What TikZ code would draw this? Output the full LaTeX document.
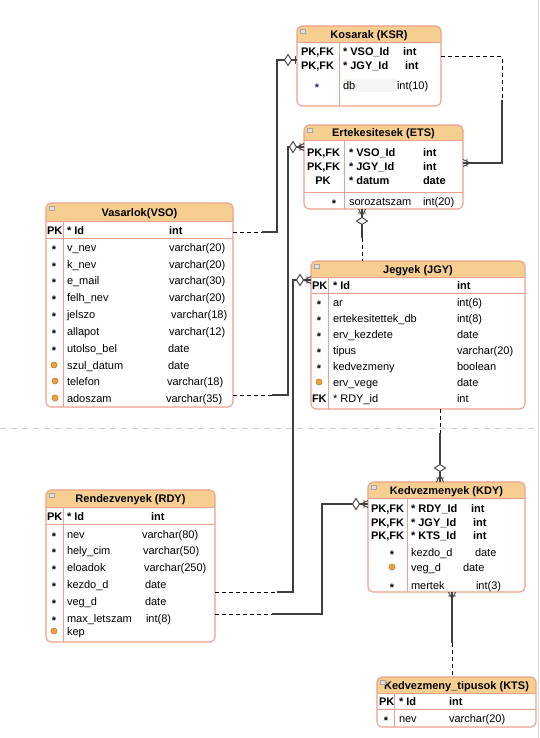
\documentclass[tikz,border=0pt]{standalone}
\usepackage{fontspec}
\setmainfont{Liberation Sans}
\definecolor{hdrorange}{RGB}{246,207,144}
\definecolor{tblborder}{RGB}{238,160,140}
\definecolor{dotfill}{RGB}{240,160,60}
\definecolor{dotedge}{RGB}{200,120,40}
\definecolor{navy}{RGB}{20,40,140}
\newcounter{cellno}
% text cell, left aligned, y = visual row centre
\newcommand{\cellL}[4][]{\stepcounter{cellno}\node[celltext,anchor=base west,#1] (cell\arabic{cellno}) at (#2,{#3+4}) {#4};}
% text cell, centred
\newcommand{\cellC}[4][]{\stepcounter{cellno}\node[celltext,anchor=base,#1] (cell\arabic{cellno}) at (#2,{#3+4}) {#4};}
% mandatory-column asterisk
\newcommand{\askmark}[3][]{\stepcounter{cellno}\node[celltext,kb,anchor=base,#1] (cell\arabic{cellno}) at (#2,{#3+6}) {*};}
% optional-column dot
\newcommand{\optmark}[2]{\stepcounter{cellno}\node[optdot] (cell\arabic{cellno}) at (#1,#2) {};}
% table: name, left, top, right, header bottom, bottom, title
\newcommand{\erTable}[7]{%
  \begin{scope}
    \clip[rounded corners=5pt] (#2,#3) rectangle (#4,#6);
    \fill[hdrorange] (#2,#3) rectangle (#4,#5);
  \end{scope}
  \draw[gridline] (#2,#5) -- (#4,#5);
  \node[tableframe, minimum width={#4-#2}, minimum height={#6-#3}] (#1) at ({(#2+#4)/2},{(#3+#6)/2}) {};
  \node[titletext] (#1-title) at ({(#2+#4)/2},{(#3+#5)/2+4}) {#7};
  \filldraw[fill=gray!25,draw=gray!70,line width=0.5pt] ({#2+3},{#3+3}) rectangle ({#2+8},{#3+7});
}
% crow's foot with bar at an entity edge; #2 = direction away from the entity
\newcommand{\erMany}[2]{%
  \begin{scope}[shift={#1},rotate=#2]
    \draw[conn,line width=0.9pt] (7,0) -- (0,3.5) (7,0) -- (0,0) (7,0) -- (0,-3.5) (4,-4) -- (4,4);
  \end{scope}}
% open diamond at distance #3 from the entity edge
\newcommand{\erDiamond}[3]{%
  \begin{scope}[shift={#1},rotate=#2]
    \filldraw[conn,fill=white,line width=0.9pt] ({#3-3.5},0) -- (#3,5.5) -- ({#3+3.5},0) -- (#3,-5.5) -- cycle;
  \end{scope}}
% single bar at distance #3 from the entity edge
\newcommand{\erOne}[3]{%
  \begin{scope}[shift={#1},rotate=#2]
    \draw[conn,line width=0.9pt] (#3,-4) -- (#3,4);
  \end{scope}}
\begin{document}
\begin{tikzpicture}[x=1pt,y=-1pt,
  celltext/.style={inner sep=0pt,outer sep=0pt,font=\fontsize{11}{13}\selectfont},
  kb/.style={font=\fontsize{11}{13}\selectfont\bfseries},
  titletext/.style={inner sep=0pt,anchor=base,font=\fontsize{11}{13}\selectfont\bfseries},
  tableframe/.style={draw=tblborder,line width=1.1pt,rounded corners=5pt,inner sep=0pt,outer sep=0pt},
  gridline/.style={draw=tblborder,line width=1pt},
  optdot/.style={circle,inner sep=0pt,minimum size=6pt,fill=dotfill,draw=dotedge,line width=0.6pt},
  conn/.style={draw=black!75,line width=1.2pt},
  connd/.style={draw=black,line width=1pt,dash pattern=on 4pt off 3pt},
  pagebreak/.style={draw=gray!40,line width=1pt,dash pattern=on 6pt off 5pt}]
\useasboundingbox (0,0) rectangle (539,738);
\fill[white] (0,0) rectangle (539,738);
\draw[pagebreak] (0,428) -- (539,428);
\draw[gray!30,line width=1pt] (538,0) -- (538,738);

% ---------- Kosarak ----------
\erTable{ksr}{297}{26}{441}{43}{106}{Kosarak (KSR)}
\draw[gridline] (339,43) -- (339,106);
\fill[gray!8] (343,79) rectangle (396,92);
\cellL[kb]{301}{52}{PK,FK} \cellL[kb]{343}{52}{* VSO\_Id} \cellL[kb]{403}{52}{int}
\cellL[kb]{301}{66}{PK,FK} \cellL[kb]{343}{66}{* JGY\_Id} \cellL[kb]{405}{66}{int}
\askmark[text=navy]{317}{86} \cellL{343}{86}{db} \cellL{397}{86}{int(10)}

% ---------- Ertekesitesek ----------
\erTable{ets}{304}{125}{463}{141}{209}{Ertekesitesek (ETS)}
\draw[gridline] (344,141) -- (344,209);
\draw[gridline] (304,192) -- (463,192);
\cellL[kb]{307}{153}{PK,FK} \cellL[kb]{349}{153}{* VSO\_Id} \cellL[kb]{423}{153}{int}
\cellL[kb]{307}{167}{PK,FK} \cellL[kb]{349}{167}{* JGY\_Id} \cellL[kb]{423}{167}{int}
\cellC[kb]{323}{180}{PK} \cellL[kb]{349}{180}{* datum} \cellL[kb]{423}{180}{date}
\askmark{334}{201} \cellL{349}{201}{sorozatszam} \cellL{423}{201}{int(20)}

% ---------- Vasarlok ----------
\erTable{vso}{46}{203}{233}{221}{407}{Vasarlok(VSO)}
\draw[gridline] (63,221) -- (63,407);
\draw[gridline] (46,238) -- (233,238);
\cellL[kb]{47}{230}{PK} \cellL[kb]{67}{230}{* Id} \cellL[kb]{169}{230}{int}
\askmark{54}{247} \cellL{67}{247}{v\_nev} \cellL{169}{247}{varchar(20)}
\askmark{54}{264} \cellL{67}{264}{k\_nev} \cellL{169}{264}{varchar(20)}
\askmark{54}{280} \cellL{67}{280}{e\_mail} \cellL{169}{280}{varchar(30)}
\askmark{54}{297} \cellL{67}{297}{felh\_nev} \cellL{169}{297}{varchar(20)}
\askmark{54}{314} \cellL{67}{314}{jelszo} \cellL{171}{314}{varchar(18)}
\askmark{54}{331} \cellL{67}{331}{allapot} \cellL{169}{331}{varchar(12)}
\askmark{54}{348} \cellL{67}{348}{utolso\_bel} \cellL{168}{348}{date}
\optmark{54}{365} \cellL{67}{365}{szul\_datum} \cellL{168}{365}{date}
\optmark{55}{381} \cellL{67}{381}{telefon} \cellL{167}{381}{varchar(18)}
\optmark{55}{398} \cellL{67}{398}{adoszam} \cellL{166}{398}{varchar(35)}

% ---------- Jegyek ----------
\erTable{jgy}{311}{261}{525}{277}{409}{Jegyek (JGY)}
\draw[gridline] (328,277) -- (328,409);
\draw[gridline] (311,293) -- (525,293);
\cellL[kb]{312}{285}{PK} \cellL[kb]{333}{285}{* Id} \cellL[kb]{457}{285}{int}
\askmark{319}{302} \cellL{333}{302}{ar} \cellL{457}{302}{int(6)}
\askmark{319}{318} \cellL{333}{318}{ertekesitettek\_db} \cellL{457}{318}{int(8)}
\askmark{319}{334} \cellL{333}{334}{erv\_kezdete} \cellL{457}{334}{date}
\askmark{319}{350} \cellL{333}{350}{tipus} \cellL{457}{350}{varchar(20)}
\askmark{319}{366} \cellL{333}{366}{kedvezmeny} \cellL{457}{366}{boolean}
\optmark{319}{382} \cellL{333}{382}{erv\_vege} \cellL{457}{382}{date}
\cellL[kb]{312}{398}{FK} \cellL{333}{398}{* RDY\_id} \cellL{457}{398}{int}

% ---------- Rendezvenyek ----------
\erTable{rdy}{46}{490}{215}{507}{642}{Rendezvenyek (RDY)}
\draw[gridline] (63,507) -- (63,642);
\draw[gridline] (46,524) -- (215,524);
\cellL[kb]{47}{516}{PK} \cellL[kb]{67}{516}{* Id} \cellL[kb]{151}{516}{int}
\askmark{54}{534} \cellL{67}{534}{nev} \cellL{142}{534}{varchar(80)}
\askmark{54}{550} \cellL{67}{550}{hely\_cim} \cellL{143}{550}{varchar(50)}
\askmark{54}{567} \cellL{67}{567}{eloadok} \cellL{144}{567}{varchar(250)}
\askmark{54}{584} \cellL{67}{584}{kezdo\_d} \cellL{145}{584}{date}
\askmark{54}{601} \cellL{67}{601}{veg\_d} \cellL{145}{601}{date}
\askmark{54}{618} \cellL{67}{618}{max\_letszam} \cellL{146}{618}{int(8)}
\optmark{54}{631} \cellL{67}{631}{kep}

% ---------- Kedvezmenyek ----------
\erTable{kdy}{368}{482}{525}{498}{592}{Kedvezmenyek (KDY)}
\draw[gridline] (407,498) -- (407,592);
\cellL[kb]{371}{508}{PK,FK} \cellL[kb]{411}{508}{* RDY\_Id} \cellL[kb]{471}{508}{int}
\cellL[kb]{371}{522}{PK,FK} \cellL[kb]{411}{522}{* JGY\_Id} \cellL[kb]{473}{522}{int}
\cellL[kb]{371}{535}{PK,FK} \cellL[kb]{411}{535}{* KTS\_Id} \cellL[kb]{473}{535}{int}
\askmark{392}{552} \cellL{411}{552}{kezdo\_d} \cellL{475}{552}{date}
\optmark{392}{567} \cellL{411}{567}{veg\_d} \cellL{463}{567}{date}
\askmark{392}{585} \cellL{411}{585}{mertek} \cellL{476}{585}{int(3)}

% ---------- Kedvezmeny_tipusok ----------
\erTable{kts}{377}{677}{536}{693}{727}{Kedvezmeny\_tipusok (KTS)}
\draw[gridline] (394,693) -- (394,727);
\draw[gridline] (377,709) -- (536,709);
\cellL[kb]{379}{701}{PK} \cellL[kb]{399}{701}{* Id} \cellL[kb]{449}{701}{int}
\askmark{386}{718} \cellL{399}{718}{nev} \cellL{449}{718}{varchar(20)}

% ---------- relationships ----------
% Vasarlok -- Kosarak
\coordinate (a1) at (262,232); \coordinate (a2) at (277,232); \coordinate (a3) at (277,60);
\draw[connd] (vso.east |- a1) -- (a1);
\draw[conn] (a1) -- (a2) -- (a3) -- (ksr.west |- a3);
\erDiamond{(ksr.west |- a3)}{180}{9}
\erOne{(ksr.west |- a3)}{180}{2}

% Kosarak -- Ertekesitesek
\coordinate (b1) at (502,57); \coordinate (b2) at (502,100); \coordinate (b3) at (502,163);
\draw[connd] (ksr.east |- b1) -- (b1) -- (b2);
\draw[conn] (b2) -- (b3) -- (ets.east |- b3);
\erMany{(ets.east |- b3)}{0}

% Vasarlok -- Ertekesitesek
\coordinate (c1) at (272,395); \coordinate (c2) at (288,395); \coordinate (c3) at (288,147);
\draw[connd] (vso.east |- c1) -- (c1);
\draw[conn] (c1) -- (c2) -- (c3) -- (ets.west |- c3);
\erMany{(ets.west |- c3)}{180}
\erDiamond{(ets.west |- c3)}{180}{11}

% Rendezvenyek -- Jegyek
\coordinate (d1) at (277,592); \coordinate (d2) at (293,592); \coordinate (d3) at (293,280);
\draw[connd] (rdy.east |- d1) -- (d1);
\draw[conn] (d1) -- (d2) -- (d3) -- (jgy.west |- d3);
\erMany{(jgy.west |- d3)}{180}
\erDiamond{(jgy.west |- d3)}{180}{11}

% Rendezvenyek -- Kedvezmenyek
\coordinate (e1) at (272,614); \coordinate (e2) at (322,614); \coordinate (e3) at (322,504);
\draw[connd] (rdy.east |- e1) -- (e1);
\draw[conn] (e1) -- (e2) -- (e3) -- (kdy.west |- e3);
\erMany{(kdy.west |- e3)}{180}
\erDiamond{(kdy.west |- e3)}{180}{12}

% Ertekesitesek -- Jegyek
\coordinate (f1) at (362,238);
\draw[conn] (ets.south -| f1) -- (f1);
\draw[connd] (f1) -- (jgy.north -| f1);
\erMany{(ets.south -| f1)}{-90}
\erDiamond{(ets.south -| f1)}{-90}{12}

% Jegyek -- Kedvezmenyek
\coordinate (g1) at (440,433);
\draw[connd] (jgy.south -| g1) -- (g1);
\draw[conn] (g1) -- (kdy.north -| g1);
\erMany{(kdy.north -| g1)}{90}
\erDiamond{(kdy.north -| g1)}{90}{14}

% Kedvezmenyek -- Kedvezmeny_tipusok
\coordinate (h1) at (452,643);
\draw[conn] (kdy.south -| h1) -- (h1);
\draw[connd] (h1) -- (kts.north -| h1);
\erMany{(kdy.south -| h1)}{-90}
\end{tikzpicture}
\end{document}
